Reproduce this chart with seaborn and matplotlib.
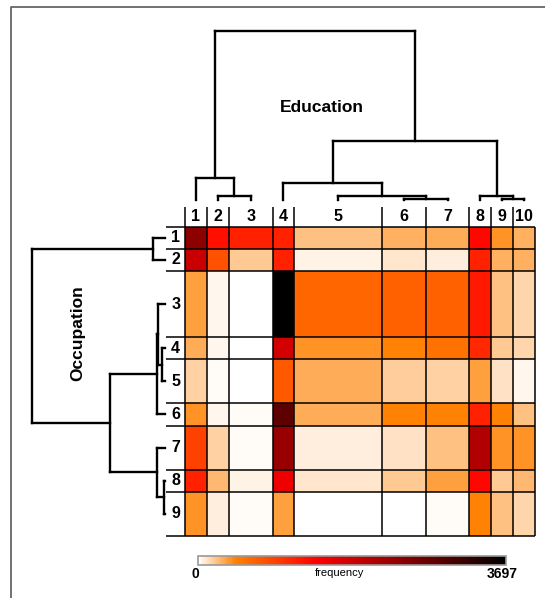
import numpy as np
import matplotlib
matplotlib.use('Agg')
import matplotlib.pyplot as plt
import seaborn as sns
from matplotlib.colors import LinearSegmentedColormap, Normalize
from matplotlib.cm import ScalarMappable
from matplotlib.lines import Line2D

# Occupation (rows) x Education (columns) frequencies
occupation = ['1', '2', '3', '4', '5', '6', '7', '8', '9']
education = ['1', '2', '3', '4', '5', '6', '7', '8', '9', '10']

# relative size of each category (cell span in the mosaic)
occ_span = [1, 1, 3, 1, 2, 1, 2, 1, 2]
edu_span = [1, 1, 2, 1, 4, 2, 2, 1, 1, 1]

freq = [
    [2440, 1287, 1165, 1165, 222, 277, 303, 1368, 388, 277],
    [1885, 802, 192, 1165, 55, 96, 67, 1165, 277, 277],
    [333, 41, 0, 3697, 636, 684, 684, 1220, 222, 152],
    [303, 41, 0, 1812, 388, 444, 555, 1109, 192, 152],
    [166, 26, 0, 739, 303, 177, 166, 333, 107, 41],
    [388, 41, 18, 2847, 303, 444, 444, 1165, 444, 222],
    [924, 166, 26, 2329, 59, 111, 222, 2107, 388, 388],
    [1165, 248, 55, 1553, 89, 192, 333, 1368, 192, 248],
    [388, 67, 26, 333, 0, 0, 18, 444, 222, 152],
]
max_freq = 3697

# linkage steps: (child a, child b, merge height); new clusters numbered after leaves
edu_merges = [
    (5, 6, 0.005),
    (8, 9, 0.005),
    (1, 2, 0.021),
    (4, 10, 0.021),
    (7, 11, 0.024),
    (3, 13, 0.102),
    (0, 12, 0.128),
    (15, 14, 0.351),
    (16, 17, 1.0),
]
occ_merges = [
    (3, 4, 0.02),
    (7, 8, 0.01),
    (2, 9, 0.05),
    (11, 5, 0.06),
    (6, 10, 0.063),
    (0, 1, 0.088),
    (12, 13, 0.414),
    (14, 15, 1.0),
]

sns.set_theme(style='white')
plt.rcParams['font.family'] = ['Liberation Sans', 'DejaVu Sans']
plt.rcParams['text.color'] = 'black'

cmap = LinearSegmentedColormap.from_list(
    'freq', [(0, 'white'), (0.12, '#ff8000'), (0.38, '#ff0000'), (1, 'black')])

W, H = 545, 598
fig = plt.figure(figsize=(W / 100, H / 100), dpi=100)


def px_axes(x0, y0, x1, y1):
    return fig.add_axes([x0 / W, 1 - y1 / H, (x1 - x0) / W, (y1 - y0) / H])


def draw_dendro(ax, merges, leaf_pos, left=False):
    pos = list(leaf_pos)
    hgt = [0.0] * len(leaf_pos)
    kw = dict(color='black', lw=1.7, clip_on=False, solid_capstyle='projecting')
    for a, b, h in merges:
        for c in (a, b):
            p, q = [pos[c], pos[c]], [hgt[c], h]
            ax.plot(q, p, **kw) if left else ax.plot(p, q, **kw)
        p, q = [pos[a], pos[b]], [h, h]
        ax.plot(q, p, **kw) if left else ax.plot(p, q, **kw)
        pos.append((pos[a] + pos[b]) / 2)
        hgt.append(h)
    ax.axis('off')


row_edges = np.concatenate([[0], np.cumsum(occ_span)])
col_edges = np.concatenate([[0], np.cumsum(edu_span)])
row_mid = (row_edges[:-1] + row_edges[1:]) / 2
col_mid = (col_edges[:-1] + col_edges[1:]) / 2

# heatmap with variable cell sizes
ax = px_axes(185, 226.7, 535, 536)
grid = np.repeat(np.repeat(np.array(freq), occ_span, axis=0), edu_span, axis=1)
sns.heatmap(grid, ax=ax, cmap=cmap, vmin=0, vmax=max_freq, cbar=False,
            xticklabels=False, yticklabels=False)
ax.hlines(row_edges, -0.86, col_edges[-1], color='black', lw=1.1, clip_on=False)
ax.vlines(col_edges[:-1], -0.9, row_edges[-1], color='black', lw=1.1, clip_on=False)
ax.vlines(col_edges[-1], 0, row_edges[-1], color='black', lw=1.1, clip_on=False)
for lab, y in zip(occupation, row_mid):
    ax.text(-0.43, y, lab, ha='center', va='center', fontsize=11.5, fontweight='bold')
for lab, x in zip(education, col_mid):
    ax.text(x, -0.45, lab, ha='center', va='center', fontsize=11.5, fontweight='bold')

# education dendrogram (top)
ax_top = px_axes(185, 31, 535, 200)
ax_top.set_xlim(0, col_edges[-1])
ax_top.set_ylim(0, 1)
draw_dendro(ax_top, edu_merges, col_mid)

# occupation dendrogram (left)
ax_left = px_axes(32, 226.7, 165, 536)
ax_left.set_xlim(1, 0)
ax_left.set_ylim(row_edges[-1], 0)
draw_dendro(ax_left, occ_merges, row_mid, left=True)

fig.text(321.7 / W, 1 - 107.3 / H, 'Education', ha='center', va='center',
         fontsize=12.5, fontweight='bold')
fig.text(78 / W, 1 - 333.3 / H, 'Occupation', ha='center', va='center',
         rotation=90, fontsize=12.5, fontweight='bold')

# colour bar
cax = px_axes(198.3, 556, 506, 565)
cb = fig.colorbar(ScalarMappable(norm=Normalize(0, max_freq), cmap=cmap),
                  cax=cax, orientation='horizontal')
cb.set_ticks([])
cb.outline.set_edgecolor('#999999')
cb.outline.set_linewidth(1.2)
fig.text(195 / W, 1 - 574 / H, '0', ha='center', va='center', fontsize=10, fontweight='bold')
fig.text(518 / W, 1 - 574 / H, str(max_freq), ha='right', va='center',
         fontsize=10, fontweight='bold')
fig.text(340 / W, 1 - 573 / H, 'frequency', ha='center', va='center', fontsize=8)

# frame (top and left edges)
fig.add_artist(Line2D([11 / W, 11 / W, 1], [0, 1 - 7 / H, 1 - 7 / H],
                      color='#666666', lw=1.3, transform=fig.transFigure))

fig.savefig('out.png', dpi=100)
